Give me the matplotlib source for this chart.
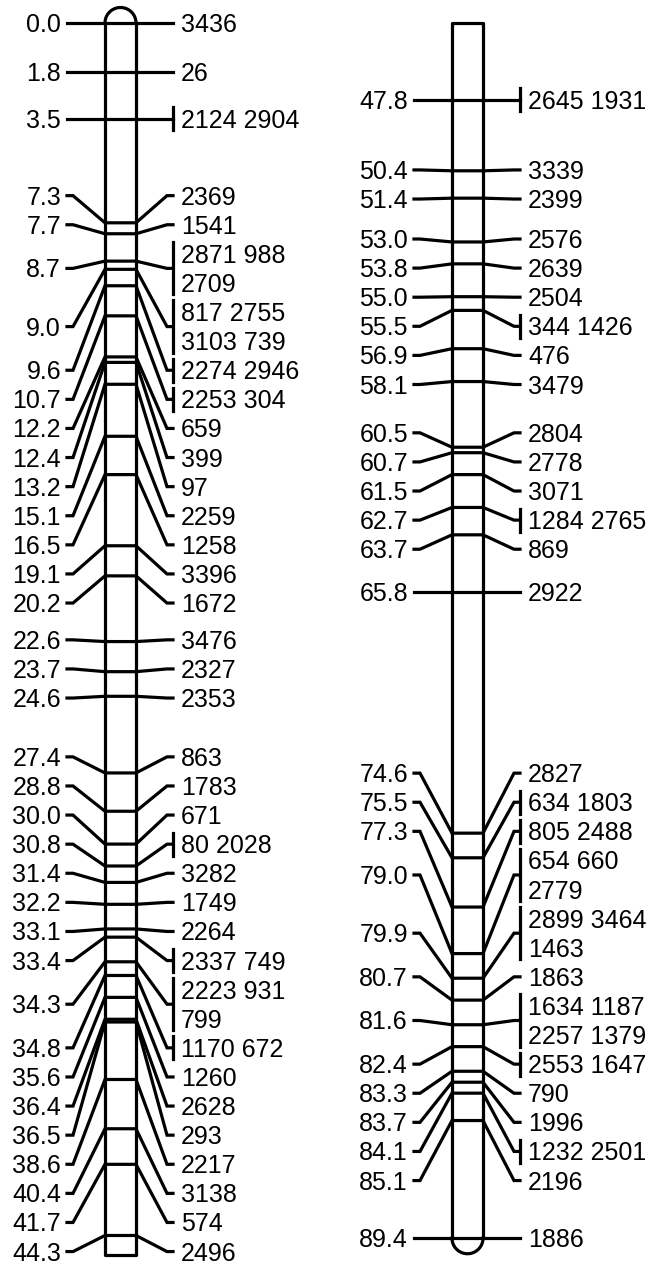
import matplotlib.pyplot as plt
import numpy as np

# linkage group, drawn in two columns (cM position, marker names at that locus)
left_cm = [0.0, 1.8, 3.5, 7.3, 7.7, 8.7, 9.0, 9.6, 10.7, 12.2, 12.4, 13.2, 15.1,
           16.5, 19.1, 20.2, 22.6, 23.7, 24.6, 27.4, 28.8, 30.0, 30.8, 31.4,
           32.2, 33.1, 33.4, 34.3, 34.8, 35.6, 36.4, 36.5, 38.6, 40.4, 41.7, 44.3]
left_markers = ["3436", "26", "2124 2904", "2369", "1541", "2871 988 2709",
                "817 2755 3103 739", "2274 2946", "2253 304", "659", "399", "97",
                "2259", "1258", "3396", "1672", "3476", "2327", "2353", "863",
                "1783", "671", "80 2028", "3282", "1749", "2264", "2337 749",
                "2223 931 799", "1170 672", "1260", "2628", "293", "2217", "3138",
                "574", "2496"]

right_cm = [47.8, 50.4, 51.4, 53.0, 53.8, 55.0, 55.5, 56.9, 58.1, 60.5, 60.7,
            61.5, 62.7, 63.7, 65.8, 74.6, 75.5, 77.3, 79.0, 79.9, 80.7, 81.6,
            82.4, 83.3, 83.7, 84.1, 85.1, 89.4]
right_markers = ["2645 1931", "3339", "2399", "2576", "2639", "2504", "344 1426",
                 "476", "3479", "2804", "2778", "3071", "1284 2765", "869", "2922",
                 "2827", "634 1803", "805 2488", "654 660 2779", "2899 3464 1463",
                 "1863", "1634 1187 2257 1379", "2553 1647", "790", "1996",
                 "1232 2501", "2196", "1886"]

# bar extent of each column (cM)
left_span = (0.0, 45.0)
right_span = (45.0, 89.4)

PX_CM = 27.37          # pixels per cM
LINE = 29.1 / PX_CM    # label line height in cM
GAP = 6 / PX_CM        # labels closer than this are spread together
W, H = 652, 1266


def spread(pos, nlines):
    """push labels apart: each cluster is centred on the midpoint of its ends"""
    hts = [n * LINE for n in nlines]

    def place(c):
        offs = [0.0]
        for a, b in zip(c[:-1], c[1:]):
            offs.append(offs[-1] + (hts[a] + hts[b]) / 2)
        start = (pos[c[0]] + pos[c[-1]]) / 2 - offs[-1] / 2
        return [start + o for o in offs]

    def clash(a, b):
        return place(a)[-1] + hts[a[-1]] / 2 + GAP > place(b)[0] - hts[b[0]] / 2

    # top-down: each new label joins the cluster just above it if they touch
    clusters = []
    for i in range(len(pos)):
        if clusters and clash(clusters[-1], [i]):
            clusters[-1].append(i)
        else:
            clusters.append([i])
    # then join clusters that still collide
    merged = True
    while merged:
        merged = False
        for k in range(len(clusters) - 1):
            if clash(clusters[k], clusters[k + 1]):
                clusters[k] = clusters[k] + clusters.pop(k + 1)
                merged = True
                break
    out = []
    for c in clusters:
        out += place(c)
    return out


def draw_column(x0, cms, markers, span, cap):
    ax = fig.add_axes([x0 / W, 0, 330 / W, 1])
    top = span[0] - 23 / PX_CM
    ax.set_xlim(0, 330)
    ax.set_ylim(top + H / PX_CM, top)
    ax.axis("off")

    groups = [m.split() for m in markers]
    rows = [[" ".join(g[i:i + 2]) for i in range(0, len(g), 2)] for g in groups]
    labels = spread(cms, [len(r) for r in rows])

    bl, br = 105, 136
    lw = 2.3
    # the chromosome bar
    r = (br - bl) / 2
    t = np.linspace(0, np.pi, 40)
    arc_x = (bl + br) / 2 + r * np.cos(t)
    if cap == "top":
        arc_y = span[0] - r / PX_CM * np.sin(t)
        ax.plot(arc_x, arc_y, color="black", lw=lw)
        ax.plot([bl, bl, br, br], [span[0], span[1], span[1], span[0]],
                color="black", lw=lw)
    else:
        arc_y = span[1] + r / PX_CM * np.sin(t)
        ax.plot(arc_x, arc_y, color="black", lw=lw)
        ax.plot([bl, bl, br, br], [span[1], span[0], span[0], span[1]],
                color="black", lw=lw)

    half_cap = 9 / PX_CM
    for cm, lab, row in zip(cms, labels, rows):
        ax.plot([67, 73, bl, br, 167, 173], [lab, lab, cm, cm, lab, lab],
                color="black", lw=lw, solid_joinstyle="miter")
        ax.text(61, lab + half_cap, f"{cm:.1f}", ha="right", va="baseline",
                fontsize=18, family="Liberation Sans")
        n = len(row)
        for j, txt in enumerate(row):
            yy = lab + (j - (n - 1) / 2) * LINE
            ax.text(181, yy + half_cap, txt, ha="left", va="baseline",
                    fontsize=18, family="Liberation Sans")
        if len(txt.split()) > 1 or n > 1:
            h = n * LINE / 2 - 3 / PX_CM
            ax.plot([173, 173], [lab - h, lab + h], color="black", lw=lw)


fig = plt.figure(figsize=(W / 100, H / 100), dpi=100)
draw_column(0, left_cm, left_markers, left_span, "top")
draw_column(347, right_cm, right_markers, right_span, "bottom")
fig.savefig("out.png", dpi=100, facecolor="white")
